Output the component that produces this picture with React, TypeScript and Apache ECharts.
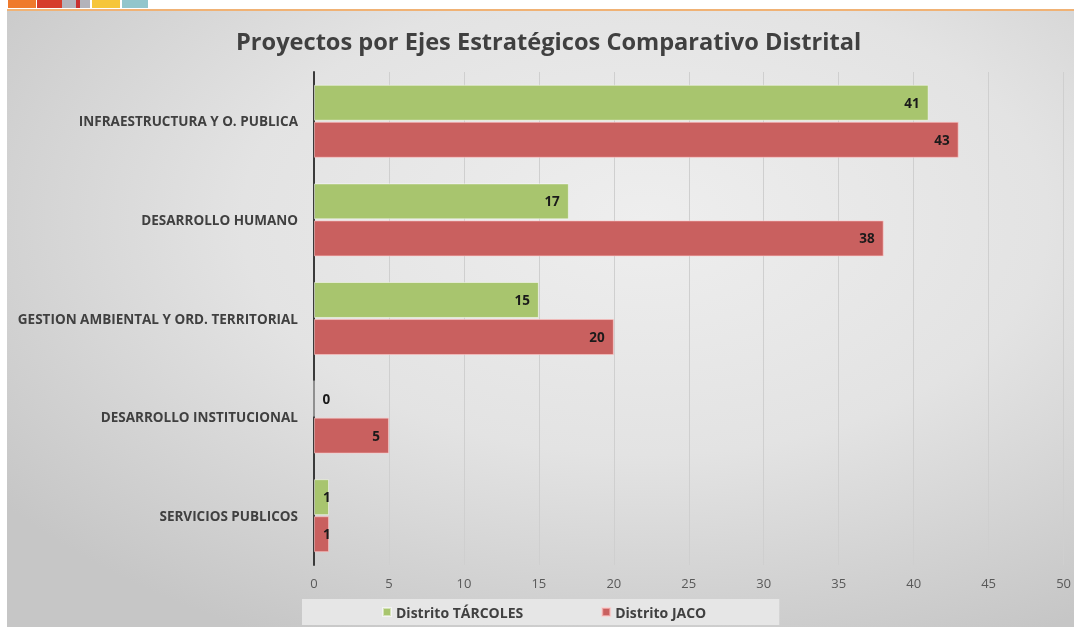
import React, { useEffect, useRef } from "react";
import * as echarts from "echarts";

const categories = [
  "INFRAESTRUCTURA Y O. PUBLICA",
  "DESARROLLO HUMANO",
  "GESTION AMBIENTAL Y ORD. TERRITORIAL",
  "DESARROLLO INSTITUCIONAL",
  "SERVICIOS PUBLICOS",
];
const tarcoles = [41, 17, 15, 0, 1];
const jaco = [43, 38, 20, 5, 1];
const seriesNames = ["Distrito TÁRCOLES", "Distrito JACO"];
const titleText = "Proyectos por Ejes Estratégicos Comparativo Distrital";

const FONT = "'Open Sans', sans-serif";

export default function App() {
  const ref = useRef<HTMLDivElement>(null);
  useEffect(() => {
    if (!ref.current) return;
    const chart = echarts.init(ref.current, null, { renderer: "svg" });
    const labelBase = {
      show: true,
      position: "insideRight" as const,
      distance: 9,
      color: "#1a1a1a",
      fontWeight: "bold" as const,
      fontSize: 13.5,
      fontFamily: FONT,
    };
    const mk = (vals: number[]) =>
      vals.map((v) => {
        if (v === 0) return { value: v, label: { position: "right" as const, distance: 8 } };
        if (v < 2) return { value: v, label: { position: "insideLeft" as const, distance: 9 } };
        return v;
      });
    chart.setOption({
      animation: false,
      backgroundColor: {
        type: "radial",
        x: 0.6,
        y: 0.35,
        r: 0.75,
        colorStops: [
          { offset: 0, color: "#eeeeee" },
          { offset: 0.5, color: "#e3e3e3" },
          { offset: 1, color: "#c6c6c6" },
        ],
      },
      graphic: [
        { type: "rect", shape: { x: 0, y: 0, width: 1074, height: 9 }, style: { fill: "#ffffff" }, silent: true },
        { type: "rect", shape: { x: 0, y: 0, width: 7, height: 627 }, style: { fill: "#ffffff" }, silent: true },
        { type: "rect", shape: { x: 8, y: 0, width: 28, height: 8 }, style: { fill: "#ef7a2c" }, silent: true },
        { type: "rect", shape: { x: 37, y: 0, width: 25, height: 8 }, style: { fill: "#d63c2c" }, silent: true },
        { type: "rect", shape: { x: 62, y: 0, width: 28, height: 8 }, style: { fill: "#b3b3bb" }, silent: true },
        { type: "rect", shape: { x: 76, y: 0, width: 4, height: 8 }, style: { fill: "#c83030" }, silent: true },
        { type: "rect", shape: { x: 92, y: 0, width: 28, height: 8 }, style: { fill: "#f6c63a" }, silent: true },
        { type: "rect", shape: { x: 122, y: 0, width: 26, height: 8 }, style: { fill: "#92c6cc" }, silent: true },
        { type: "rect", shape: { x: 7, y: 9, width: 1067, height: 2 }, style: { fill: "#f0b275" }, silent: true },
      ],
      title: {
        text: titleText,
        left: 231,
        top: 24,
        textStyle: { fontFamily: FONT, fontSize: 23.6, fontWeight: "bold", color: "#404040" },
      },
      legend: {
        data: seriesNames,
        bottom: 2,
        left: 302,
        itemWidth: 8,
        itemHeight: 8,
        icon: "rect",
        itemGap: 78,
        padding: [6, 73, 6, 80],
        backgroundColor: "#e6e6e6",
        textStyle: { fontFamily: FONT, fontSize: 14, fontWeight: "bold", color: "#404040" },
      },
      grid: { left: 314, right: 10, top: 72, bottom: 62, containLabel: false },
      xAxis: {
        type: "value",
        min: 0,
        max: 50,
        interval: 5,
        axisLine: { show: false },
        axisTick: { show: false },
        axisLabel: { color: "#595959", fontFamily: FONT, fontSize: 13, margin: 11 },
        splitLine: { show: true, lineStyle: { color: "#cfcfcf", width: 1 } },
      },
      yAxis: {
        type: "category",
        data: categories,
        inverse: true,
        axisLine: { show: true, lineStyle: { color: "#3a3a3a", width: 2 } },
        axisTick: { show: false },
        axisLabel: {
          color: "#404040",
          fontFamily: FONT,
          fontSize: 13.5,
          fontWeight: "bold",
          margin: 16,
        },
      },
      series: [
        {
          name: seriesNames[0],
          type: "bar",
          data: mk(tarcoles),
          barGap: "3%",
          barCategoryGap: "26%",
          itemStyle: { color: "#a8c56e", borderColor: "rgba(255,255,255,0.5)", borderWidth: 1 },
          label: labelBase,
        },
        {
          name: seriesNames[1],
          type: "bar",
          data: mk(jaco),
          barGap: "3%",
          barCategoryGap: "26%",
          itemStyle: { color: "#c9605f", borderColor: "rgba(255,200,200,0.6)", borderWidth: 1 },
          label: labelBase,
        },
      ],
    });
    return () => chart.dispose();
  }, []);
  return (
    <div
      ref={ref}
      style={{ position: "fixed", left: 0, top: 0, width: 1074, height: 627 }}
    />
  );
}
